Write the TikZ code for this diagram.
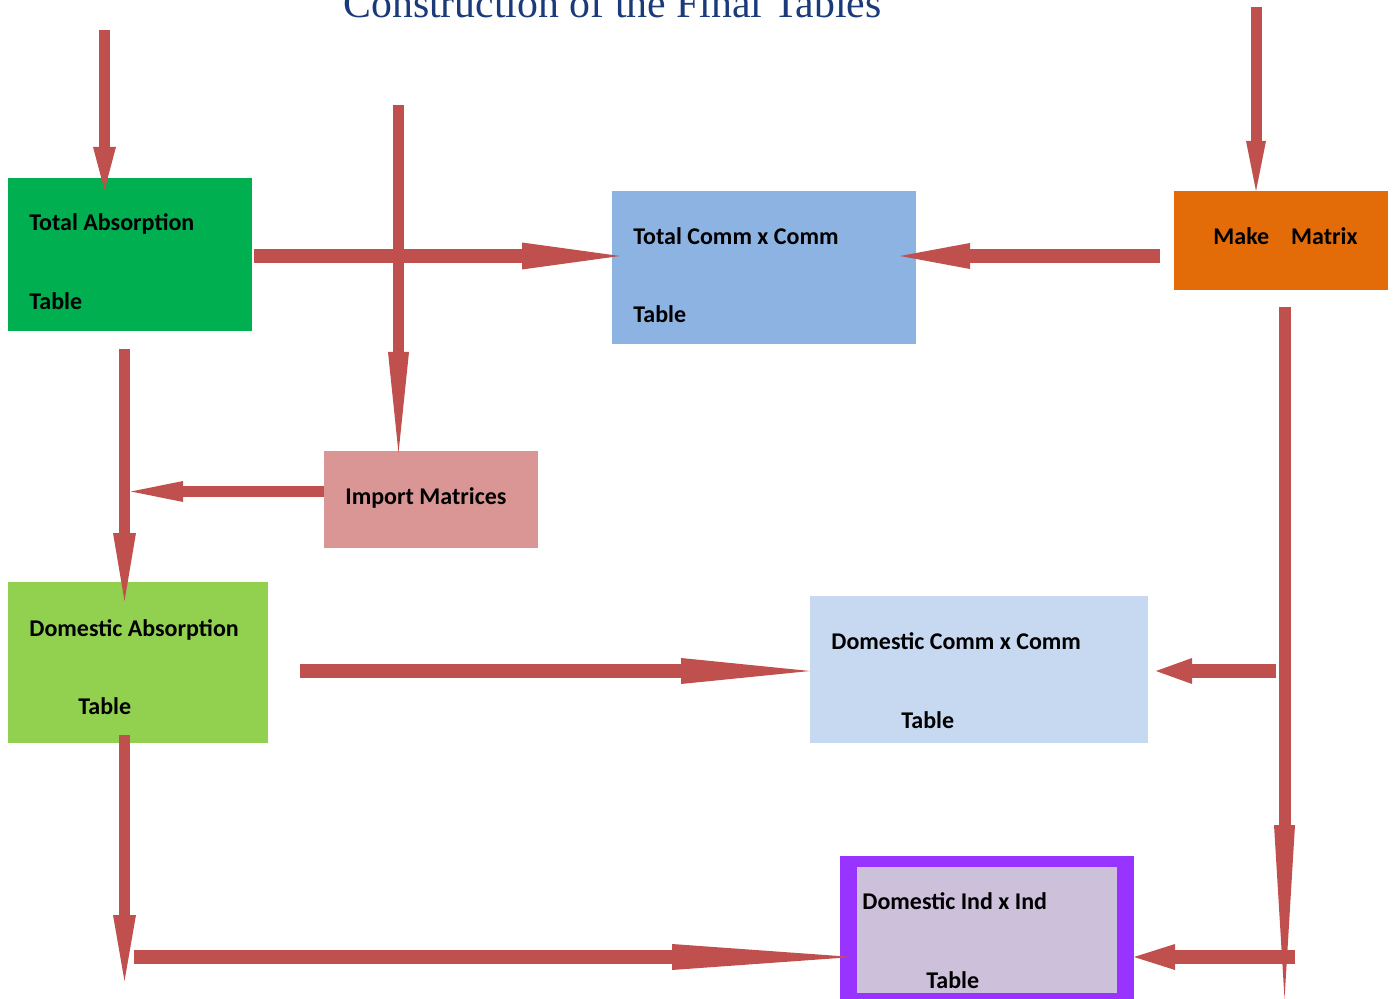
\documentclass[tikz,border=0pt]{standalone}
\usepackage{fontspec}
\setmainfont{Carlito}
\newfontfamily\titlefont{Liberation Serif}
\usepackage{tikz}
\usetikzlibrary{arrows.meta}
\definecolor{arrowred}{HTML}{C0504D}
\definecolor{titleblue}{HTML}{1A3A7A}
\definecolor{tagreen}{HTML}{00B050}
\definecolor{dagreen}{HTML}{92D050}
\definecolor{tccblue}{HTML}{8DB3E2}
\definecolor{dccblue}{HTML}{C6D9F1}
\definecolor{mmorange}{HTML}{E36C09}
\definecolor{impink}{HTML}{D99694}
\definecolor{diiborder}{HTML}{9933FF}
\definecolor{diifill}{HTML}{CCC0DA}
\tikzset{box/.style={draw=none, inner sep=0pt, outer sep=0pt, anchor=north west},
    txt/.style={inner sep=0pt, anchor=base west, font=\bfseries\fontsize{12}{14}\selectfont},
    flow/.style={draw=arrowred, line width=5.5pt},
    wide/.style={line width=7pt},
    arrowhead/.style 2 args={-{Triangle[length=#1, width=#2, line width=0pt 0]}}}

\begin{document}
\begin{tikzpicture}[x=0.5pt, y=-0.5pt]
            \useasboundingbox (0,0) rectangle (1395,999);
            \node[anchor=base west, inner sep=0pt, text=titleblue,
                font=\titlefont\fontsize{20.9}{24}\selectfont] (title) at (343,17.5)
                {Construction of the Final Tables};
            \node[box, fill=tagreen, minimum width=122pt, minimum height=76.5pt] (ta) at (8,178) {};
            \node[box, fill=tccblue, minimum width=152pt, minimum height=76.5pt] (tcc) at (612,191) {};
            \node[box, fill=mmorange, minimum width=107pt, minimum height=49.5pt] (mm) at (1174,191) {};
            \node[box, fill=impink, minimum width=107pt, minimum height=48.5pt] (im) at (324,451) {};
            \node[box, fill=dagreen, minimum width=130pt, minimum height=80.5pt] (da) at (8,582) {};
            \node[box, fill=dccblue, minimum width=169pt, minimum height=73.5pt] (dcc) at (810,596) {};
            \node[box, fill=diiborder, minimum width=147pt, minimum height=73.5pt] (dii) at (840,856) {};
            \node[box, fill=diifill, minimum width=130pt, minimum height=63pt] (dii-in) at (857,867) {};
            \node[txt] (ta-a) at (29,231) {Total Absorption};
            \node[txt] (ta-b) at (29,310) {Table};
            \node[txt] (tcc-a) at (633,245) {Total Comm x Comm};
            \node[txt] (tcc-b) at (633,323) {Table};
            \node[txt] (mm-a) at (1213,245) {Make\hspace{11pt}Matrix};
            \node[txt] (im-a) at (345,504) {Import Matrices};
            \node[txt] (da-a) at (29,636) {Domestic Absorption};
            \node[txt] (da-b) at (78,714) {Table};
            \node[txt] (dcc-a) at (831,649) {Domestic Comm x Comm};
            \node[txt] (dcc-b) at (901,728) {Table};
            \node[txt] (dii-a) at (862,909) {Domestic Ind x Ind};
            \node[txt] (dii-b) at (926,988) {Table};
            \coordinate (c2) at (124.5,0);
            \coordinate (c3) at (1284.5,0);
            \coordinate (r1) at (0,256);
            \coordinate (r2) at (0,491.5);
            \coordinate (r3) at (0,671);
            \coordinate (r4) at (0,957);
            \coordinate (in-ta) at (104.5,30);
            \coordinate (in-im) at (398.5,105);
            \coordinate (in-mm) at (1256,7);
            \coordinate (out-mm) at (1284.5,999);
            \coordinate (out-da) at (124.5,981);
            \draw[flow, arrowhead={21.5pt}{11.5pt}, shorten >=-6pt] (in-ta) -- (in-ta |- ta.north);
            \draw[flow, arrowhead={50.5pt}{10.5pt}, shorten >=-1pt] (in-im) -- (in-im |- im.north);
            \draw[flow, wide, arrowhead={49pt}{13.5pt}, shorten <=1pt, shorten >=-4pt] (ta.east |- r1) -- (tcc.west |- r1);
            \draw[flow, wide, arrowhead={35pt}{13pt}, shorten <=7pt, shorten >=-8pt] (mm.west |- r1) -- (tcc.east |- r1);
            \draw[flow, arrowhead={25pt}{10pt}] (in-mm) -- (in-mm |- mm.north);
            \draw[flow, arrowhead={34pt}{11.5pt}, shorten <=9pt, shorten >=-9.5pt] (c2 |- ta.south) -- (c2 |- da.north);
            \draw[flow, arrowhead={26pt}{10.5pt}, shorten >=3.25pt] (im.west |- r2) -- (c2 |- r2);
            \draw[flow, wide, arrowhead={64.5pt}{13pt}, shorten <=16pt] (da.east |- r3) -- (dcc.west |- r3);
            \draw[flow, wide, arrowhead={18pt}{13pt}, shorten <=4.25pt, shorten >=4pt] (c3 |- r3) -- (dcc.east |- r3);
            \draw[flow, line width=6pt, arrowhead={87pt}{10.5pt}, shorten <=8.5pt] (c3 |- mm.south) -- (out-mm);
            \draw[flow, arrowhead={33pt}{11.5pt}, shorten <=-4pt] (c2 |- da.south) -- (out-da);
            \draw[flow, wide, arrowhead={90.5pt}{13pt}, shorten <=4.75pt, shorten >=-6.5pt] (c2 |- r4) -- (dii.west |- r4);
            \draw[flow, wide, arrowhead={20.5pt}{13pt}, shorten <=-5.25pt] (c3 |- r4) -- (dii.east |- r4);
        \end{tikzpicture}
\end{document}
